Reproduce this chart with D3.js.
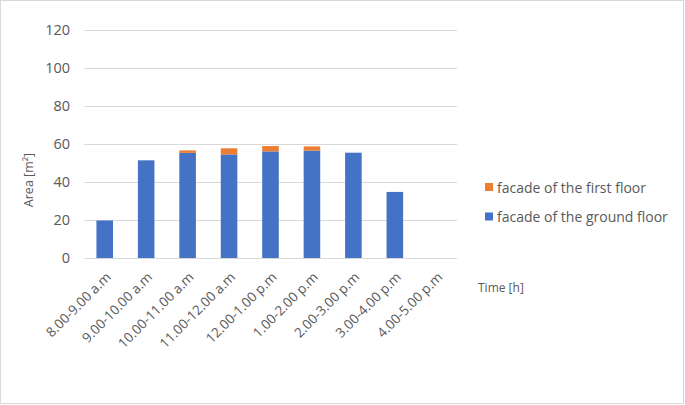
<!DOCTYPE html>
<html>
<head>
<meta charset="utf-8">
<script src="https://cdn.jsdelivr.net/npm/d3@7"></script>
<style>
  body { margin: 0; background: #fff; }
  svg { display: block; font-family: "Open Sans", "Noto Sans", sans-serif; }
</style>
</head>
<body>
<svg id="chart" width="685" height="405"></svg>
<script>
// stacked column chart: facade area per hour

const categories = ["8.00-9.00 a.m", "9.00-10.00 a.m", "10.00-11.00 a.m", "11.00-12.00 a.m",
  "12.00-1.00 p.m", "1.00-2.00 p.m", "2.00-3.00 p.m", "3.00-4.00 p.m", "4.00-5.00 p.m"];
const groundFloor = [19.7, 51.3, 55.2, 54.4, 56.0, 56.4, 55.3, 34.7, 0];
const firstFloor = [0, 0, 1.3, 3.2, 2.8, 2.2, 0, 0, 0];
const seriesNames = ["facade of the ground floor", "facade of the first floor"];
const yTicks = [0, 20, 40, 60, 80, 100, 120];

const colors = { ground: "#4472c4", first: "#ed7d31" };
const textColor = "#595959";

const svg = d3.select("#chart");

// outer frame
svg.append("rect")
  .attr("x", 0.5).attr("y", 0.5)
  .attr("width", 683).attr("height", 403)
  .attr("fill", "none").attr("stroke", "#d9d9d9");

const x = d3.scaleBand().domain(categories).range([84, 457]).paddingInner(0.6).paddingOuter(0.3);
const y = d3.scaleLinear().domain([0, 120]).range([258, 29.5]);

// gridlines
svg.append("g")
  .selectAll("line")
  .data(yTicks)
  .join("line")
  .attr("x1", 84).attr("x2", 457)
  .attr("y1", d => Math.round(y(d)) + 0.5)
  .attr("y2", d => Math.round(y(d)) + 0.5)
  .attr("stroke", "#d9d9d9").attr("stroke-width", 1);

// y axis labels
const yAxis = svg.append("g")
  .attr("transform", "translate(70,0)")
  .call(d3.axisLeft(y).tickValues(yTicks).tickSize(0).tickPadding(0));
yAxis.select(".domain").remove();
yAxis.selectAll("text")
  .attr("fill", textColor)
  .attr("font-size", 14.5)
  .attr("font-family", "\"Open Sans\", \"Noto Sans\", sans-serif");

// stacked bars
const rows = categories.map((c, i) => ({ cat: c, ground: groundFloor[i], first: firstFloor[i] }));
const stack = d3.stack().keys(["ground", "first"])(rows);

svg.append("g")
  .selectAll("g")
  .data(stack)
  .join("g")
  .attr("fill", d => colors[d.key])
  .selectAll("rect")
  .data(d => d)
  .join("rect")
  .attr("x", d => x(d.data.cat))
  .attr("width", x.bandwidth())
  .attr("y", d => y(d[1]))
  .attr("height", d => y(d[0]) - y(d[1]));

// x axis baseline
svg.append("line")
  .attr("x1", 84).attr("x2", 457)
  .attr("y1", 258.5).attr("y2", 258.5)
  .attr("stroke", "#d9d9d9");

// x labels, rotated
svg.append("g")
  .selectAll("text")
  .data(categories)
  .join("text")
  .attr("transform", d => `translate(${x(d) + x.bandwidth() / 2 + 7},${278}) rotate(-45)`)
  .attr("text-anchor", "end")
  .attr("fill", textColor)
  .attr("font-size", 13.5)
  .text(d => d);

// axis titles
svg.append("text")
  .attr("transform", "translate(33,180) rotate(-90)")
  .attr("text-anchor", "middle")
  .attr("fill", textColor)
  .attr("font-size", 12.5)
  .text("Area [m²]");

svg.append("text")
  .attr("x", 478).attr("y", 292)
  .attr("fill", textColor)
  .attr("font-size", 12)
  .text("Time [h]");

// legend
const legend = svg.append("g")
  .selectAll("g")
  .data([{ name: seriesNames[1], key: "first" }, { name: seriesNames[0], key: "ground" }])
  .join("g")
  .attr("transform", (d, i) => `translate(485,${187.5 + i * 29.5})`);
legend.append("rect")
  .attr("x", 0).attr("y", -4.5)
  .attr("width", 8).attr("height", 8)
  .attr("fill", d => colors[d.key]);
legend.append("text")
  .attr("x", 12).attr("y", 5)
  .attr("fill", textColor)
  .attr("font-size", 14)
  .text(d => d.name);
</script>
</body>
</html>
